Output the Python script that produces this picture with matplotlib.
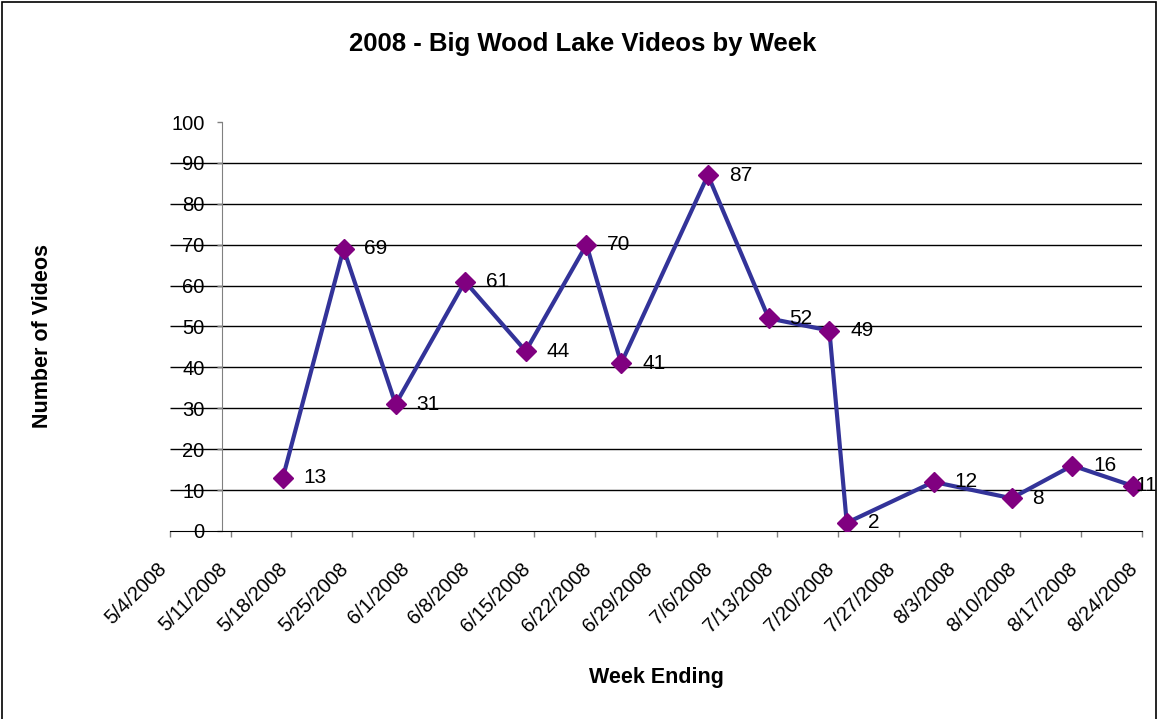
import numpy as np
import pandas as pd
import matplotlib
matplotlib.use("Agg")
import matplotlib.pyplot as plt
import matplotlib.dates as mdates
from matplotlib.patches import Rectangle

plt.rcParams["font.family"] = ["Liberation Sans", "DejaVu Sans"]

# datos
fechas = ["2008-05-17", "2008-05-24", "2008-05-30", "2008-06-07", "2008-06-14",
          "2008-06-21", "2008-06-25", "2008-07-05", "2008-07-12", "2008-07-19",
          "2008-07-21", "2008-07-31", "2008-08-09", "2008-08-16", "2008-08-23"]
videos = [13, 69, 31, 61, 44, 70, 41, 87, 52, 49, 2, 12, 8, 16, 11]

semanas = pd.date_range("2008-05-04", "2008-08-24", freq="7D")
etiquetas = [f"{d.month}/{d.day}/{d.year}" for d in semanas]
cruce_y = pd.Timestamp("2008-05-10")
y_ticks = np.arange(0, 101, 10)
lineas_grid = y_ticks[1:-1]

titulo = "2008 - Big Wood Lake Videos by Week"
x_label = "Week Ending"
y_label = "Number of Videos"

x = pd.to_datetime(fechas)

fig = plt.figure(figsize=(11.59, 7.19), dpi=100)
ax = fig.add_axes([0.1467, 0.2615, 0.8384, 0.5688])

ax.hlines(lineas_grid, semanas[0], semanas[-1], color="black", lw=1, zorder=1)

ax.plot(x, videos, color="#333399", lw=3, zorder=3,
        marker="D", markersize=10.5, markerfacecolor="#800080",
        markeredgecolor="#800080")

for i, (d, v) in enumerate(zip(x, videos)):
    # la ultima etiqueta queda pegada al borde, como en el original
    dx = 2 if i == len(videos) - 1 else 15
    ax.annotate(str(v), (d, v), xytext=(dx, 0), textcoords="offset points",
                ha="left", va="center", fontsize=15, zorder=4)

ax.set_xlim(semanas[0], semanas[-1])
ax.set_ylim(0, 100)
ax.set_yticks(y_ticks)
ax.set_xticks(semanas)
ax.set_xticklabels(etiquetas, rotation=45, ha="right", va="top")

ax.spines["top"].set_visible(False)
ax.spines["right"].set_visible(False)
ax.spines["left"].set_position(("data", mdates.date2num(cruce_y)))
ax.spines["left"].set_color("#808080")
ax.spines["bottom"].set_color("black")

ax.tick_params(axis="y", direction="out", length=3.6, width=1,
               color="#808080", labelsize=14.5, pad=9)
ax.tick_params(axis="x", direction="out", length=4.3, width=1,
               color="#808080", labelsize=14.5, pad=16)

fig.text(583 / 1159, 1 - 50.7 / 719, titulo, ha="center", va="baseline",
         fontsize=18.5, fontweight="bold")
fig.text(656 / 1159, 1 - 683.3 / 719, x_label, ha="center", va="baseline",
         fontsize=15.5, fontweight="bold")
fig.text(43 / 1159, 1 - 336 / 719, y_label, ha="center", va="center",
         rotation=90, fontsize=15.5, fontweight="bold")

fig.patches.append(Rectangle((2 / 1159, -0.01), 1154 / 1159, 1 - 2 / 719 + 0.01,
                             transform=fig.transFigure, fill=False,
                             edgecolor="black", lw=1.2))

fig.savefig("out.png", dpi=100)
